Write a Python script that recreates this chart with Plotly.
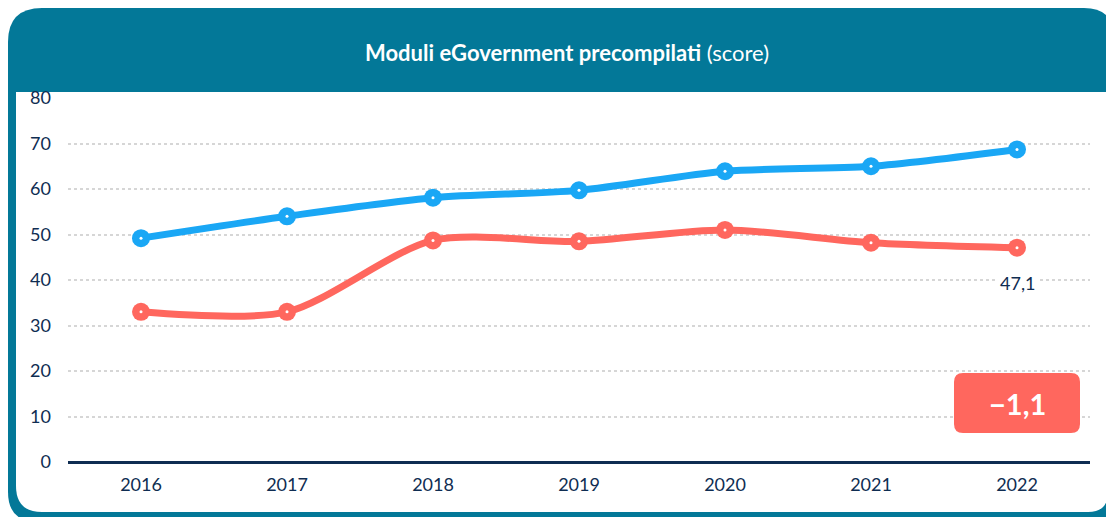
import plotly.graph_objects as go

# data
years = [2016, 2017, 2018, 2019, 2020, 2021, 2022]
italia = [49.2, 54.0, 58.1, 59.7, 63.9, 65.0, 68.7]
ue = [33.0, 33.0, 48.7, 48.5, 51.0, 48.2, 47.1]
y_ticks = [0, 10, 20, 30, 40, 50, 60, 70, 80]
last_label = "47,1"
delta_label = "\u22121,1"

BLUE = "#1aa7f5"
RED = "#ff675e"
TEAL = "#037898"
NAVY = "#0f2d52"
FONT = "Lato"

# page body has an 8px margin, so the figure starts at (8, 8)
OFF = 8
W, H = 1114 - OFF, 517 - OFF
L, R, T, B = 68 - OFF, 24, 98 - OFF, 55
PW, PH = W - L - R, H - T - B


def px(x):
    return (x - OFF - L) / PW


def py(y):
    return (H - B - (y - OFF)) / PH


def rounded(x0, y0, x1, y1, rtl, rtr, rbr, rbl):
    # rounded rectangle path in paper coords from screen pixel corners
    pts = [
        f"M {px(x0 + rtl)},{py(y0)}",
        f"L {px(x1 - rtr)},{py(y0)}",
        f"Q {px(x1)},{py(y0)} {px(x1)},{py(y0 + rtr)}",
        f"L {px(x1)},{py(y1 - rbr)}",
        f"Q {px(x1)},{py(y1)} {px(x1 - rbr)},{py(y1)}",
        f"L {px(x0 + rbl)},{py(y1)}",
        f"Q {px(x0)},{py(y1)} {px(x0)},{py(y1 - rbl)}",
        f"L {px(x0)},{py(y0 + rtl)}",
        f"Q {px(x0)},{py(y0)} {px(x0 + rtl)},{py(y0)}",
        "Z",
    ]
    return " ".join(pts)


fig = go.Figure()

for vals, col in [(italia, BLUE), (ue, RED)]:
    fig.add_trace(go.Scatter(
        x=years, y=vals, mode="lines+markers",
        line=dict(color=col, width=7, shape="spline", smoothing=0.8),
        marker=dict(color=col, size=18),
        showlegend=False, hoverinfo="x+y",
    ))
    fig.add_trace(go.Scatter(
        x=years, y=vals, mode="markers",
        marker=dict(color="white", size=3),
        showlegend=False, hoverinfo="skip",
    ))

shapes = [
    dict(type="path", xref="paper", yref="paper", layer="below",
         path=rounded(8, 8, 1114, 522, 34, 30, 26, 30),
         fillcolor=TEAL, line=dict(width=0)),
    dict(type="path", xref="paper", yref="paper", layer="below",
         path=rounded(16, 92, 1108, 512, 0, 0, 20, 26),
         fillcolor="white", line=dict(width=0)),
    dict(type="path", xref="paper", yref="paper", layer="above",
         path=rounded(954, 373, 1080, 433, 9, 9, 9, 9),
         fillcolor=RED, line=dict(width=0)),
]

annotations = [
    dict(x=px(567), y=py(52), xref="paper", yref="paper", showarrow=False,
         text="<b>Moduli eGovernment precompilati</b> (score)",
         font=dict(color="white", size=22, family=FONT),
         xanchor="center", yanchor="middle"),
    dict(x=years[-1], y=ue[-1], xref="x", yref="y", showarrow=False,
         text=last_label, yshift=-35, bgcolor="white", borderpad=4,
         font=dict(color=NAVY, size=18, family=FONT)),
    dict(x=px(1017), y=py(403), xref="paper", yref="paper", showarrow=False,
         text=f"<b>{delta_label}</b>",
         font=dict(color="white", size=29, family=FONT),
         xanchor="center", yanchor="middle"),
]

fig.update_layout(
    width=W, height=H,
    margin=dict(l=L, r=R, t=T, b=B),
    paper_bgcolor="white", plot_bgcolor="rgba(0,0,0,0)",
    shapes=shapes, annotations=annotations,
    font=dict(family=FONT, color=NAVY, size=18),
)
fig.update_xaxes(
    range=[2015.5, 2022.5], tickmode="array", tickvals=years,
    ticktext=[str(y) for y in years], showgrid=False, zeroline=False,
    showline=False, ticks="", tickfont=dict(size=18, color=NAVY),
    ticklabelstandoff=10, fixedrange=True,
)
fig.update_yaxes(
    range=[0, 80], tickmode="array", tickvals=y_ticks,
    showgrid=True, gridcolor="#d6d6d6", griddash="dot", gridwidth=2,
    zeroline=True, zerolinecolor=NAVY, zerolinewidth=2.5,
    showline=False, ticks="", tickfont=dict(size=18, color=NAVY),
    ticklabelstandoff=16, fixedrange=True,
)

fig.write_html("out.html")
